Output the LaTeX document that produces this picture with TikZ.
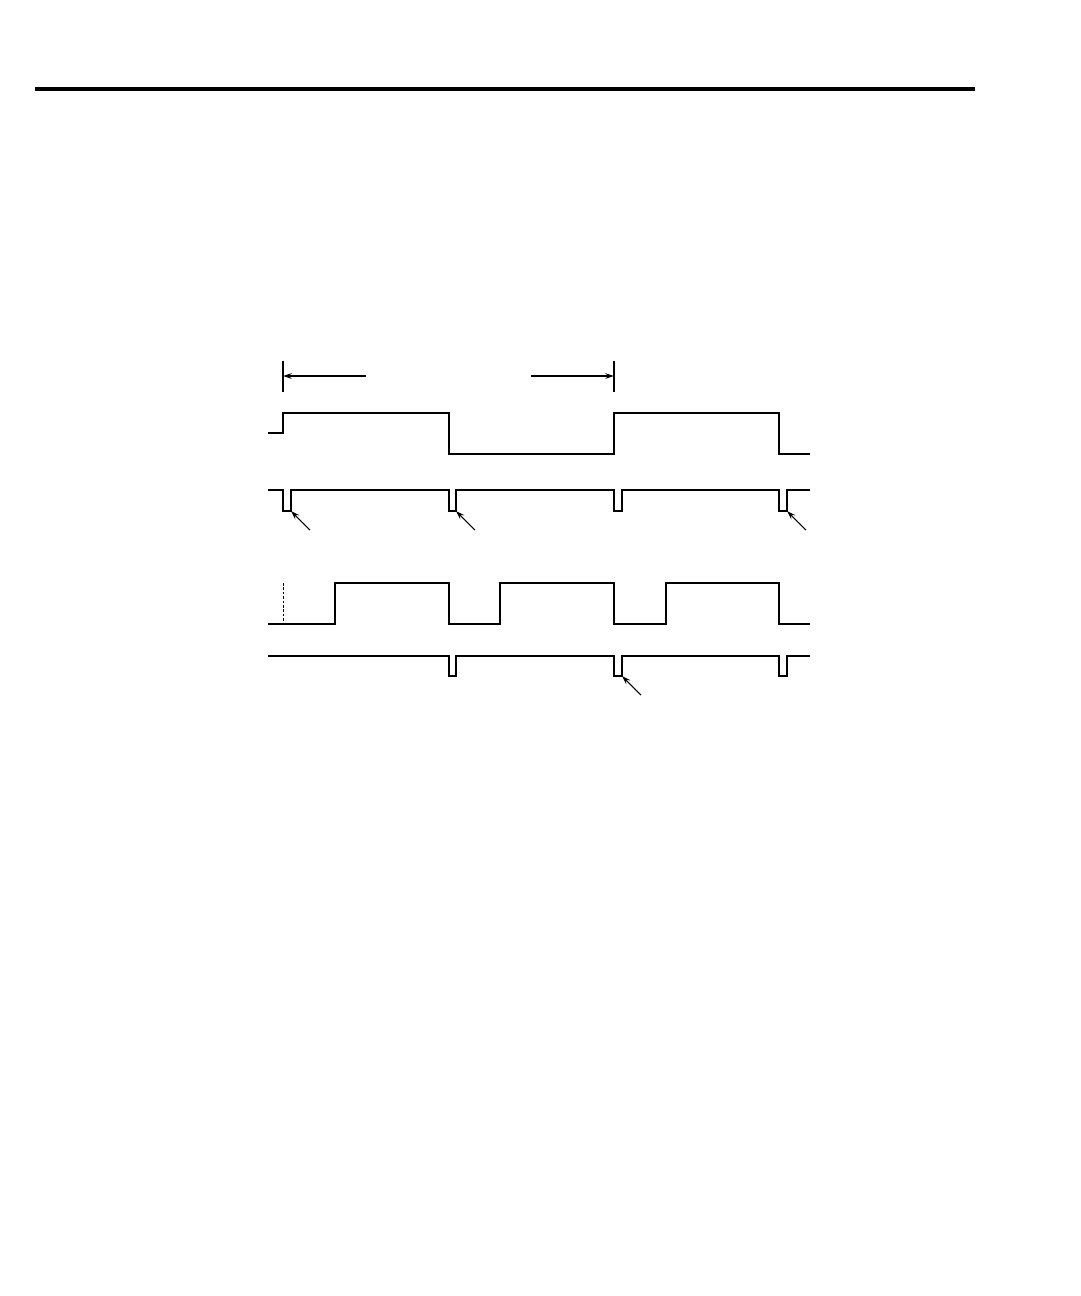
\documentclass[tikz,border=0pt]{standalone}
\usepackage{tikz}
\usetikzlibrary{arrows.meta}
\tikzstyle{wave}      = [line width=1.1pt, line join=miter]
\tikzstyle{thin line} = [line width=0.6pt]
\tikzstyle{pointer}   = [thin line, -{Stealth[length=5pt,width=3.2pt]}]

\begin{document}
\begin{tikzpicture}[x=0.02cm, y=-0.02cm]
\useasboundingbox (0,0) rectangle (1080,1296);

    % Rule across the top of the page
    \coordinate (ruleL) at (35,89);
    \coordinate (ruleR) at (975,89);
    \draw[line width=2.5pt] (ruleL) -- (ruleR);

    % Period marker
    \coordinate (t0) at (283,376);
    \coordinate (t1) at (614,376);
    \coordinate (s0) at (366,376);
    \coordinate (s1) at (531,376);
    \draw[thin line] (283,361) -- (283,392);
    \draw[thin line] (614,361) -- (614,392);
    \draw[pointer] (s0) -- (t0);
    \draw[pointer] (s1) -- (t1);

    % Square wave
    \draw[wave] (268,433) -| (283,413) -| (449,454) -| (614,413) -| (779,454) -- (810,454);

    % Pulses on every edge
    \draw[wave] (268,490) -| (283,511) -| (291,490) -| (449,511) -| (456,490)
                -| (614,511) -| (622,490) -| (779,511) -| (787,490) -- (810,490);

    % Delayed wave
    \draw[line width=0.5pt, dash pattern=on 1.5pt off 1pt] (283,583) -- (283,624);
    \draw[wave] (268,624) -| (335,583) -| (449,624) -| (500,583) -| (614,624)
                -| (666,583) -| (779,624) -- (810,624);

    % Pulses on falling edges only
    \draw[wave] (268,656) -| (449,676) -| (456,656) -| (614,676) -| (622,656)
                -| (779,676) -| (787,656) -- (810,656);

    % Pointers to the pulses
    \foreach \x/\y [count=\i] in {291/511, 456/511, 787/511, 622/676}
    {
        \coordinate (p\i) at (\x,\y);
        \coordinate (q\i) at (\x+19,\y+19);
        \draw[pointer] (q\i) -- (p\i);
    }

\end{tikzpicture}
\end{document}
